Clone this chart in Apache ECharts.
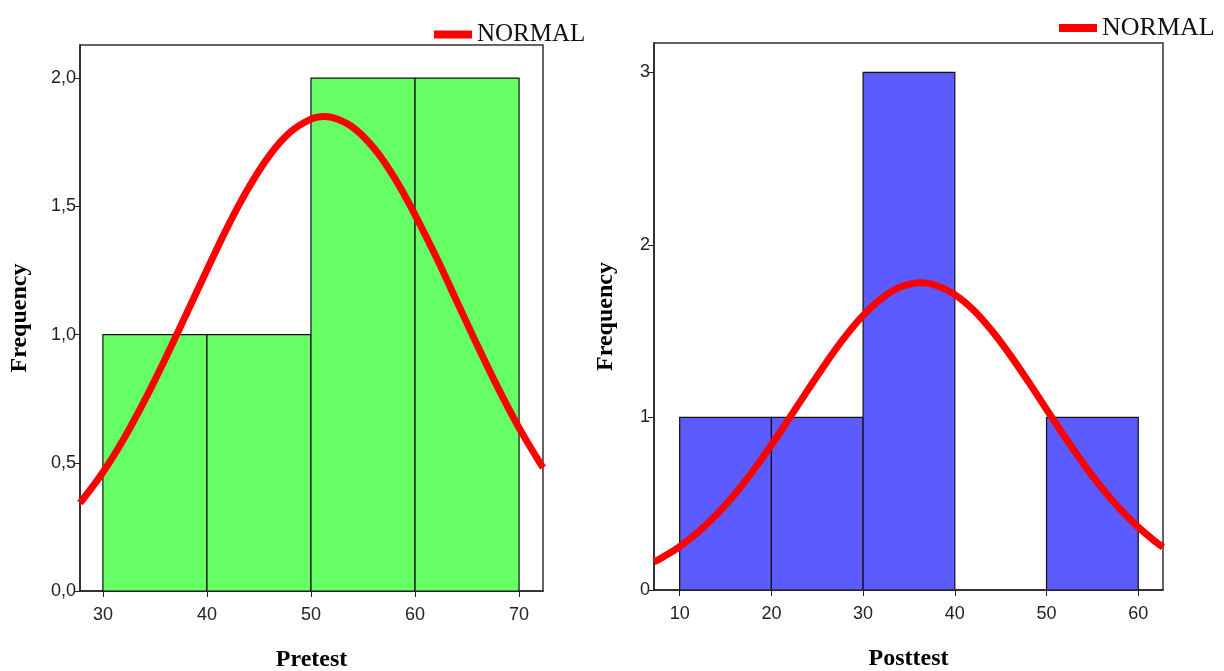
<!DOCTYPE html>
<html>
<head>
<meta charset="utf-8">
<title>Pretest / Posttest</title>
<script src="https://cdn.jsdelivr.net/npm/echarts@6/dist/echarts.min.js"></script>
<style>
  html, body { margin: 0; padding: 0; background: #fff; }
  #main { width: 1224px; height: 671px; }
</style>
</head>
<body>
<div id="main"></div>
<script>
// Pretest histogram (bins of 10)
var preBinStart = [30, 40, 50, 60];
var preBinEnd = [40, 50, 60, 70];
var preCounts = [1, 1, 2, 2];
// Pretest normal curve
var preCurveX = [27.8, 30, 32, 34, 36, 38, 40, 42, 44, 46, 48, 50, 51.3, 52, 54, 56, 58, 60, 62, 64, 66, 68, 70, 72, 72.3];
var preCurveY = [0.343, 0.463, 0.593, 0.742, 0.906, 1.078, 1.252, 1.421, 1.572, 1.698, 1.789, 1.840, 1.850, 1.847, 1.809, 1.729, 1.613, 1.467, 1.305, 1.131, 0.957, 0.790, 0.636, 0.500, 0.481];
var preXTicks = [30, 40, 50, 60, 70];
var preYTicks = [0, 0.5, 1, 1.5, 2];

// Posttest histogram
var postBinStart = [10, 20, 30, 50];
var postBinEnd = [20, 30, 40, 60];
var postCounts = [1, 1, 3, 1];
// Posttest normal curve
var postCurveX = [7.2, 8, 10, 12, 14, 16, 18, 20, 22, 24, 26, 28, 30, 32, 34, 36.3, 38, 40, 42, 44, 46, 48, 50, 52, 54, 56, 58, 60, 62, 62.7];
var postCurveY = [0.163, 0.185, 0.252, 0.335, 0.436, 0.555, 0.691, 0.840, 0.999, 1.161, 1.319, 1.465, 1.591, 1.689, 1.754, 1.780, 1.765, 1.712, 1.624, 1.505, 1.364, 1.209, 1.047, 0.887, 0.734, 0.594, 0.470, 0.364, 0.275, 0.248];
var postXTicks = [10, 20, 30, 40, 50, 60];
var postYTicks = [0, 1, 2, 3];

var labelFont = "'Liberation Sans', Arial, sans-serif";
var serifFont = "'Liberation Serif', 'DejaVu Serif', serif";

var myChart = echarts.init(document.getElementById('main'));

// 直方图柱子
function binData(starts, ends, counts) {
	var out = [];
	for (var i = 0; i < starts.length; i++) out.push([starts[i], ends[i], counts[i]]);
	return out;
}
function zipXY(xs, ys) {
	var out = [];
	for (var i = 0; i < xs.length; i++) out.push([xs[i], ys[i]]);
	return out;
}
function binRender(fill) {
	return function (params, api) {
		var p0 = api.coord([api.value(0), api.value(2)]);
		var p1 = api.coord([api.value(1), 0]);
		return {
			type: 'rect',
			shape: { x: p0[0], y: p0[1], width: p1[0] - p0[0], height: p1[1] - p0[1] },
			style: { fill: fill, stroke: '#111', lineWidth: 1.2 }
		};
	};
}
function xAxisOf(idx, min, max, ticks, name) {
	return {
		type: 'value', gridIndex: idx, min: min, max: max,
		name: name, nameLocation: 'middle', nameGap: 57,
		nameTextStyle: { fontFamily: serifFont, fontWeight: 'bold', fontSize: 24, color: '#000' },
		splitLine: { show: false },
		axisLine: { show: true, onZero: false, lineStyle: { color: '#222', width: 1.5 } },
		axisTick: { show: true, length: 6, customValues: ticks, lineStyle: { color: '#222' } },
		axisLabel: { customValues: ticks, margin: 15, fontSize: 18, color: '#222', fontFamily: labelFont }
	};
}
function yAxisOf(idx, max, ticks, comma) {
	return {
		type: 'value', gridIndex: idx, min: 0, max: max,
		name: 'Frequency', nameLocation: 'middle', nameGap: comma ? 48 : 36,
		nameTextStyle: { fontFamily: serifFont, fontWeight: 'bold', fontSize: 24, color: '#000' },
		splitLine: { show: false },
		axisLine: { show: true, lineStyle: { color: '#222', width: 1.5 } },
		axisTick: { show: true, length: 6, customValues: ticks, lineStyle: { color: '#222' } },
		axisLabel: {
			customValues: ticks, margin: 4, fontSize: 18, color: '#222', fontFamily: labelFont,
			formatter: function (v) { return comma ? v.toFixed(1).replace('.', ',') : String(v); }
		}
	};
}

var option = {
	animation: false,
	backgroundColor: '#fff',
	legend: [
		{ data: ['NORMAL'], left: 429, top: 17, icon: 'rect', itemWidth: 38, itemHeight: 8,
		  textStyle: { fontFamily: serifFont, fontSize: 25, color: '#111' }, selectedMode: false },
		{ data: ['NORMAL'], left: 1054, top: 10, icon: 'rect', itemWidth: 38, itemHeight: 8,
		  textStyle: { fontFamily: serifFont, fontSize: 26, color: '#111' }, selectedMode: false }
	],
	grid: [
		{ left: 80, top: 45, width: 463, height: 546, show: true, borderColor: '#333', borderWidth: 1.5,
		  outerBoundsMode: 'none', containLabel: false },
		{ left: 654, top: 43, width: 509, height: 547, show: true, borderColor: '#333', borderWidth: 1.5,
		  outerBoundsMode: 'none', containLabel: false }
	],
	xAxis: [
		xAxisOf(0, 27.8, 72.3, preXTicks, 'Pretest'),
		xAxisOf(1, 7.2, 62.7, postXTicks, 'Posttest')
	],
	yAxis: [
		yAxisOf(0, 2.129, preYTicks, true),
		yAxisOf(1, 3.17, postYTicks, false)
	],
	series: [
		{ type: 'custom', xAxisIndex: 0, yAxisIndex: 0, renderItem: binRender('#66ff66'),
		  encode: { x: [0, 1], y: 2 }, data: binData(preBinStart, preBinEnd, preCounts) },
		{ type: 'line', name: 'NORMAL', xAxisIndex: 0, yAxisIndex: 0, smooth: 0.4, showSymbol: false,
		  color: '#ff0000', lineStyle: { color: '#ff0000', width: 7 }, data: zipXY(preCurveX, preCurveY) },
		{ type: 'custom', xAxisIndex: 1, yAxisIndex: 1, renderItem: binRender('#5b5bff'),
		  encode: { x: [0, 1], y: 2 }, data: binData(postBinStart, postBinEnd, postCounts) },
		{ type: 'line', name: 'NORMAL', xAxisIndex: 1, yAxisIndex: 1, smooth: 0.4, showSymbol: false,
		  color: '#ff0000', lineStyle: { color: '#ff0000', width: 7 }, data: zipXY(postCurveX, postCurveY) }
	]
};
myChart.setOption(option);
</script>
</body>
</html>
